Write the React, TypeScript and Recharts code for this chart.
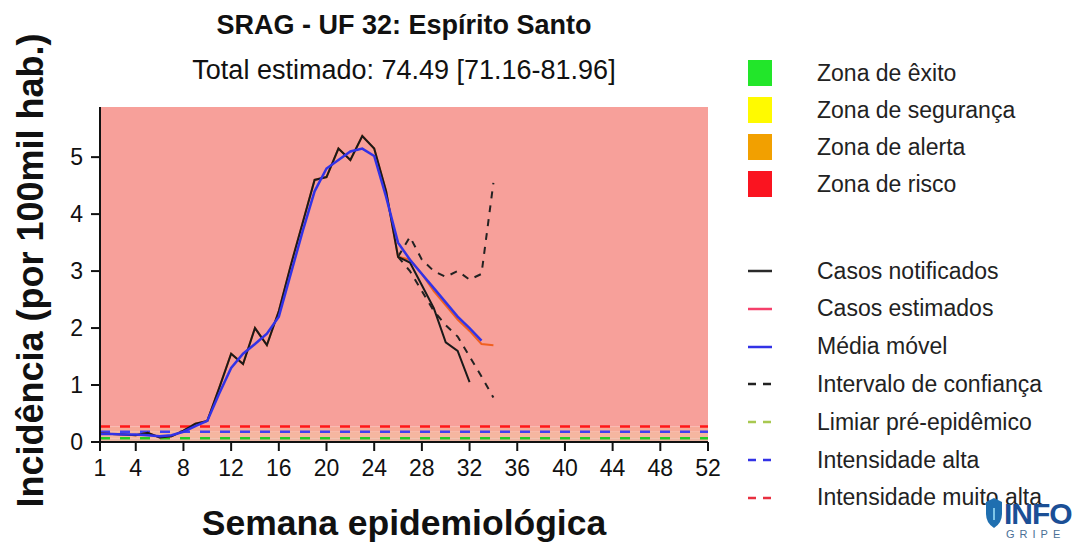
import { LineChart, Line, XAxis, YAxis, ReferenceArea, ReferenceLine } from 'recharts';

const FONT = '"Liberation Sans", Arial, Helvetica, sans-serif';

// epidemiological weeks shown so far
const weeks = [1, 2, 3, 4, 5, 6, 7, 8, 9, 10, 11, 12, 13, 14, 15, 16, 17, 18, 19, 20, 21, 22, 23, 24, 25, 26, 27, 28, 29, 30, 31, 32, 33, 34];

const notified = [0.15, 0.14, 0.13, 0.12, 0.16, 0.08, 0.1, 0.2, 0.32, 0.37, 0.95, 1.55, 1.37, 2.0, 1.7, 2.3, 3.1, 3.85, 4.6, 4.65, 5.15, 4.95, 5.37, 5.15, 4.4, 3.25, 3.15, 2.75, 2.35, 1.75, 1.6, 1.05, null, null];
const estimated = [0.15, 0.14, 0.13, 0.12, 0.16, 0.08, 0.1, 0.2, 0.32, 0.37, 0.95, 1.55, 1.37, 2.0, 1.7, 2.3, 3.1, 3.85, 4.6, 4.65, 5.15, 4.95, 5.37, 5.15, 4.4, 3.25, 3.2, 2.95, 2.65, 2.4, 2.15, 1.95, 1.72, 1.7];
const movingAvg = [0.14, 0.14, 0.13, 0.13, 0.12, 0.1, 0.12, 0.18, 0.28, 0.37, 0.85, 1.3, 1.55, 1.72, 1.9, 2.2, 2.95, 3.7, 4.4, 4.8, 4.95, 5.1, 5.15, 5.02, 4.3, 3.5, 3.2, 2.95, 2.7, 2.45, 2.2, 2.0, 1.78, null];
const ciLower = [null, null, null, null, null, null, null, null, null, null, null, null, null, null, null, null, null, null, null, null, null, null, null, null, null, 3.25, 3.0, 2.65, 2.3, 2.05, 1.85, 1.5, 1.15, 0.78];
const ciUpper = [null, null, null, null, null, null, null, null, null, null, null, null, null, null, null, null, null, null, null, null, null, null, null, null, null, 3.25, 3.6, 3.2, 3.0, 2.9, 3.0, 2.85, 2.95, 4.55];

// thresholds
const preEpidemic = 0.065;
const highIntensity = 0.18;
const veryHighIntensity = 0.27;
const yMax = 5.88;

const xTicks = [1, 4, 8, 12, 16, 20, 24, 28, 32, 36, 40, 44, 48, 52];
const yTicks = [0, 1, 2, 3, 4, 5];

const zoneLabels = ['Zona de êxito', 'Zona de segurança', 'Zona de alerta', 'Zona de risco'];
const seriesLabels = ['Casos notificados', 'Casos estimados', 'Média móvel', 'Intervalo de confiança', 'Limiar pré-epidêmico', 'Intensidade alta', 'Intensidade muito alta'];

const zoneColors = ['#22e62a', '#fffa00', '#f2a000', '#fa1420'];
const seriesStyles = [
  { color: '#2a2a2a', dash: '' },
  { color: '#f5406a', dash: '' },
  { color: '#3232e6', dash: '' },
  { color: '#222222', dash: '8 7' },
  { color: '#a8c850', dash: '8 7' },
  { color: '#3232e6', dash: '8 7' },
  { color: '#e83040', dash: '8 7' },
];

const data = weeks.map((w, i) => ({
  week: w,
  notified: notified[i],
  estimated: estimated[i],
  movingAvg: movingAvg[i],
  ciLower: ciLower[i],
  ciUpper: ciUpper[i],
}));

const XTitle = ({ viewBox }: any) => (
  <text x={viewBox.x + viewBox.width / 2} y={viewBox.y + 93} textAnchor="middle" fontFamily={FONT} fontWeight="bold" fontSize={35.5} fill="#111">
    Semana epidemiológica
  </text>
);

const YTitle = ({ viewBox }: any) => {
  const x = viewBox.x + 23;
  const y = viewBox.y + viewBox.height / 2 - 4;
  return (
    <text x={x} y={y} transform={`rotate(-90, ${x}, ${y})`} textAnchor="middle" fontFamily={FONT} fontWeight="bold" fontSize={36} fill="#111">
      Incidência (por 100mil hab.)
    </text>
  );
};

function ChartLegend() {
  return (
    <div style={{ position: 'absolute', left: 748, top: 0, fontFamily: FONT, fontSize: 23, color: '#222' }}>
      {zoneLabels.map((label, i) => (
        <div key={label} style={{ position: 'absolute', top: 60 + i * 37, left: 0, height: 26, display: 'flex', alignItems: 'center', whiteSpace: 'nowrap' }}>
          <div style={{ width: 24, height: 26, background: zoneColors[i] }} />
          <span style={{ marginLeft: 45 }}>{label}</span>
        </div>
      ))}
      {seriesLabels.map((label, i) => (
        <div key={label} style={{ position: 'absolute', top: 258 + i * 37.8, left: 0, height: 26, display: 'flex', alignItems: 'center', whiteSpace: 'nowrap' }}>
          <svg width={24} height={6}>
            <line x1={0} y1={3} x2={24} y2={3} stroke={seriesStyles[i].color} strokeWidth={2.5} strokeDasharray={seriesStyles[i].dash} />
          </svg>
          <span style={{ marginLeft: 45 }}>{label}</span>
        </div>
      ))}
    </div>
  );
}

function Logo() {
  return (
    <div style={{ position: 'absolute', left: 984, top: 496, width: 94, height: 46 }}>
      <svg width={94} height={46}>
        <path d="M2 6 L10 2 L18 6 L18 18 Q18 27 10 32 Q2 27 2 18 Z" fill="#1f6fb0" />
        <path d="M10 12 L10 24" stroke="#7fc6e8" strokeWidth={2} />
        <text x={20} y={28} fontFamily={FONT} fontWeight="bold" fontSize={30} fill="#1b4f96" letterSpacing={-1}>INFO</text>
        <text x={22} y={42} fontFamily={FONT} fontSize={11} fill="#4a6f96" letterSpacing={5}>GRIPE</text>
      </svg>
    </div>
  );
}

export default function App() {
  return (
    <div style={{ position: 'absolute', left: 0, top: 0, width: 1078, height: 544, background: '#fff', overflow: 'hidden' }}>
      <div style={{ position: 'absolute', left: 0, width: 808, top: 10, textAlign: 'center', fontFamily: FONT, fontWeight: 'bold', fontSize: 27, color: '#111' }}>
        SRAG - UF 32: Espírito Santo
      </div>
      <div style={{ position: 'absolute', left: 0, width: 808, top: 55, textAlign: 'center', fontFamily: FONT, fontSize: 27, color: '#111' }}>
        Total estimado: 74.49 [71.16-81.96]
      </div>
      <LineChart width={1078} height={544} data={data} margin={{ top: 107, right: 370, bottom: 62, left: 20 }}>
        <ReferenceArea y1={0} y2={preEpidemic} fill="#ecb5a2" fillOpacity={1} stroke="none" />
        <ReferenceArea y1={preEpidemic} y2={highIntensity} fill="#f5b6a0" fillOpacity={1} stroke="none" />
        <ReferenceArea y1={highIntensity} y2={veryHighIntensity} fill="#f6aa98" fillOpacity={1} stroke="none" />
        <ReferenceArea y1={veryHighIntensity} y2={yMax} fill="#f7a09a" fillOpacity={1} stroke="none" />
        <XAxis
          dataKey="week"
          type="number"
          domain={[1, 52]}
          ticks={xTicks}
          interval={0}
          height={40}
          tickSize={9}
          tickMargin={9}
          stroke="#111"
          strokeWidth={2}
          tick={{ fill: '#111', fontSize: 23, fontFamily: FONT }}
          label={<XTitle />}
        />
        <YAxis
          type="number"
          domain={[0, yMax]}
          ticks={yTicks}
          allowDataOverflow
          width={80}
          tickSize={9}
          tickMargin={8}
          stroke="#111"
          strokeWidth={2}
          tick={{ fill: '#111', fontSize: 23, fontFamily: FONT }}
          label={<YTitle />}
        />
        <ReferenceLine y={preEpidemic} stroke="#22cc22" strokeWidth={2.5} strokeDasharray="10 10" />
        <ReferenceLine y={highIntensity} stroke="#4040ee" strokeWidth={2.5} strokeDasharray="10 10" />
        <ReferenceLine y={veryHighIntensity} stroke="#ff1818" strokeWidth={2.5} strokeDasharray="10 10" />
        <Line dataKey="ciUpper" stroke="#222" strokeWidth={2} strokeDasharray="7 7" dot={false} isAnimationActive={false} />
        <Line dataKey="ciLower" stroke="#222" strokeWidth={2} strokeDasharray="7 7" dot={false} isAnimationActive={false} />
        <Line dataKey="estimated" stroke="#f06020" strokeWidth={2} dot={false} isAnimationActive={false} />
        <Line dataKey="notified" stroke="#1a1a1a" strokeWidth={2} dot={false} isAnimationActive={false} />
        <Line dataKey="movingAvg" stroke="#3232e6" strokeWidth={2.5} dot={false} isAnimationActive={false} />
      </LineChart>
      <ChartLegend />
      <Logo />
    </div>
  );
}
